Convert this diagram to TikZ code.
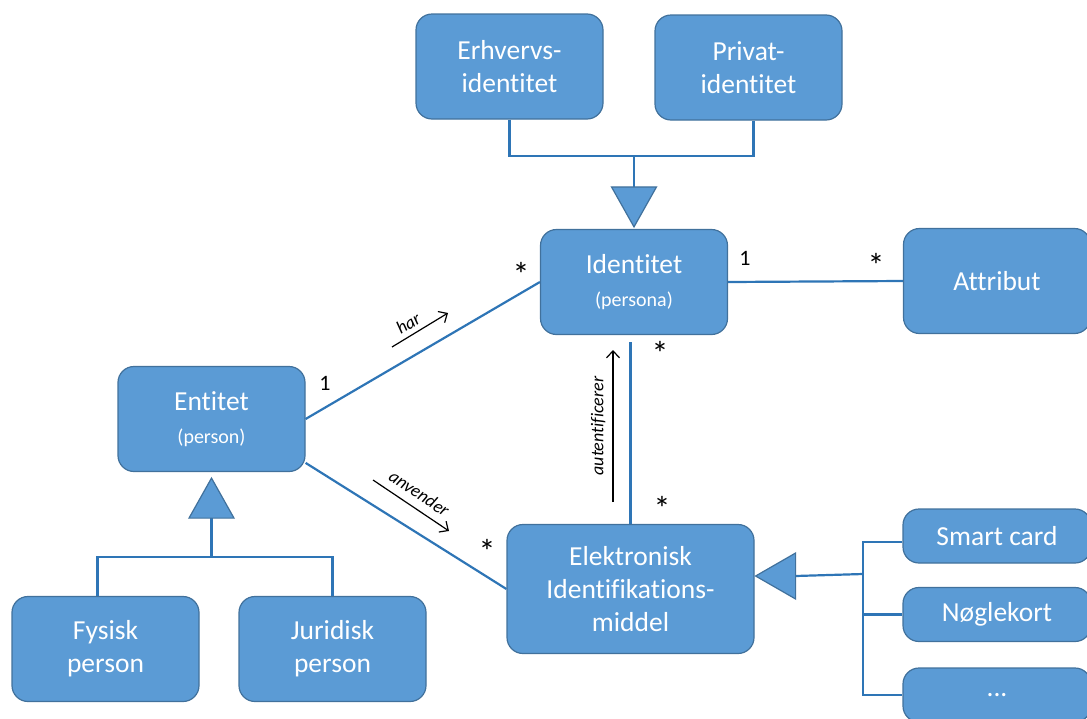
\documentclass[tikz,border=0pt]{standalone}
\usepackage{fontspec}
\setmainfont[Ligatures=NoCommon]{Carlito}
\usetikzlibrary{arrows.meta}
\definecolor{boxblue}{HTML}{5B9BD5}
\definecolor{boxedge}{HTML}{41719C}
\definecolor{linkblue}{HTML}{2E75B6}
\newcommand\subtxt{\fontsize{20}{20}\selectfont}

\begin{document}
\begin{tikzpicture}[x=1pt,y=-1pt,
		box/.style={draw=boxedge, line width=1.2pt, fill=boxblue, rounded corners=16pt, text=white, align=center,
			font=\fontsize{27.5}{33}\selectfont, minimum width=187pt, minimum height=105pt, inner sep=0pt},
		smallbox/.style={box, minimum width=188pt, minimum height=54pt},
		link/.style={draw=linkblue, line width=2.2pt},
		gentri/.style={fill=boxblue, draw=boxedge, line width=1.2pt},
		mult/.style={font=\fontsize{22}{24}\selectfont},
		star/.style={font=\fontsize{34}{34}\selectfont, inner sep=0pt},
		verb/.style={font=\fontsize{18}{20}\selectfont\itshape, inner sep=1pt},
		verbarrow/.style={-{Straight Barb[length=7pt,width=13pt]}, line width=1.2pt}]
		\useasboundingbox (0,0) rectangle (1087,718);
		\clip (0,0) rectangle (1087,718);
		% classes
		\node[box] (erhv) at (509.5,66.5) {Erhvervs-\\identitet};
		\node[box] (priv) at (748.5,67.5) {Privat-\\identitet};
		\node[box] (ident) at (634,282) {Identitet\\{\subtxt (persona)}};
		\node[box] (attr) at (997,281) {Attribut};
		\node[box] (ent) at (211.5,419) {Entitet\\{\subtxt (person)}};
		\node[box] (fys) at (105.5,649) {Fysisk\\person};
		\node[box] (jur) at (332.5,649) {Juridisk\\person};
		\node[box, minimum width=247pt, minimum height=129pt] (elek) at (630.5,589) {Elektronisk\\Identifikations-\\middel};
		\node[smallbox] (smart) at (997,536) {Smart card};
		\node[smallbox] (noegle) at (997,614.5) {Nøglekort};
		\node[smallbox] (dots) at (997,695) {...};
		% generalisation: identitet
		\coordinate (identjoin) at (ident.north |- 0,156);
		\draw[link] (erhv.south) -- (erhv.south |- identjoin) -- ([xshift=5pt]priv.south |- identjoin) -- ([xshift=5pt]priv.south);
		\draw[link] (identjoin) -- ([yshift=42pt]ident.north);
		\filldraw[gentri] ([yshift=2pt]ident.north) -- ++(-22.5,-40) -- ++(45,0) -- cycle;
		% generalisation: entitet
		\coordinate (entjoin) at (ent.south |- 0,557);
		\draw[link] ([yshift=-46pt]ent.south) -- (entjoin);
		\draw[link] ([xshift=-8pt]fys.north) |- (jur.north |- entjoin) -- (jur.north);
		\filldraw[gentri] ([yshift=-6pt]ent.south) -- ++(-22.5,40) -- ++(45,0) -- cycle;
		% generalisation: identifikationsmiddel
		\coordinate (elektip) at ([xshift=1pt,yshift=13pt]elek.east);
		\coordinate (elekjoin) at (863,574);
		\draw[link] ([xshift=40pt]elektip) -- (elekjoin);
		\draw[link] ([yshift=-6pt]smart.west) -| (elekjoin |- dots.west) -- (dots.west);
		\draw[link] (noegle.west) -- (noegle.west -| elekjoin);
		\filldraw[gentri] (elektip) -- ++(40,-23) -- ++(0,46) -- cycle;
		% associations
		\draw[link] (ent.east) -- (ident.west);
		\draw[link] (ident.east) -- (attr.west);
		\draw[link] (ent.-25) -- (elek.west);
		\draw[link] (elek.north) -- ([yshift=-7pt]elek.north |- ident.south);
		% multiplicities
		\node[mult] (m1) at (325,383) {1};
		\node[star] (m2) at (521,274) {*};
		\node[mult] (m3) at (745,258) {1};
		\node[star] (m4) at (876,265) {*};
		\node[star] (m5) at (660,353) {*};
		\node[star] (m6) at (662,508) {*};
		\node[star] (m7) at (487,551) {*};
		% roles
		\coordinate (har0) at (392,347);
		\coordinate (har1) at (448,313);
		\draw[verbarrow] (har0) -- (har1) node[pos=0.4, above=4pt, sloped, verb] {har};
		\coordinate (anv0) at (373,480);
		\coordinate (anv1) at (449,531);
		\draw[verbarrow] (anv0) -- (anv1) node[midway, above=7pt, sloped, verb] {anvender};
		\coordinate (aut0) at (613,502);
		\coordinate (aut1) at (613,350);
		\draw[verbarrow] (aut0) -- (aut1) node[midway, above=6pt, sloped, verb] {autentificerer};
	\end{tikzpicture}
\end{document}
